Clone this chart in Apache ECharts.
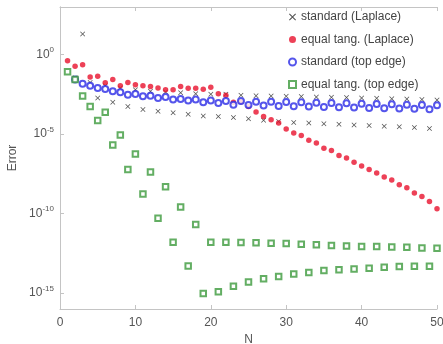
<!DOCTYPE html>
<html>
<head>
<meta charset="utf-8">
<script src="https://cdn.jsdelivr.net/npm/echarts@6/dist/echarts.min.js"></script>
<style>html,body{margin:0;padding:0;background:#fff}#c{width:443px;height:344px}</style>
</head>
<body>
<div id="c"></div>
<script>
// N values
const nBlack = [2,3,4,5,6,7,8,9,10,11,12,13,14,15,16,17,18,19,20,21,22,23,24,25,26,27,28,29,30,31,32,33,34,35,36,37,38,39,40,41,42,43,44,45,46,47,48,49,50];
const stdLaplace = [3.5e-2,2.0e1,1.8e-2,1.9e-3,1.1e-2,1.0e-3,7.9e-3,5.4e-4,6.3e-3,3.5e-4,5.0e-3,2.8e-4,4.5e-3,2.2e-4,4.0e-3,1.8e-4,3.5e-3,1.4e-4,3.2e-3,1.3e-4,3.2e-3,1.1e-4,2.8e-3,9.3e-5,2.6e-3,7.6e-5,2.5e-3,6.3e-5,2.4e-3,5.5e-5,2.3e-3,5.0e-5,2.2e-3,4.5e-5,2.1e-3,4.2e-5,2.0e-3,3.8e-5,1.9e-3,3.5e-5,1.8e-3,3.2e-5,1.7e-3,2.9e-5,1.6e-3,2.6e-5,1.5e-3,2.3e-5,1.4e-3];

const nRed = [1,2,3,4,5,6,7,8,9,10,11,12,13,14,15,16,17,18,19,20,21,22,23,24,25,26,27,28,29,30,31,32,33,34,35,36,37,38,39,40,41,42,43,44,45,46,47,48,49,50];
const eqLaplace = [4.2e-1,1.9e-1,2.3e-1,4.0e-2,4.4e-2,1.7e-2,2.7e-2,1.1e-2,1.8e-2,1.3e-2,1.1e-2,1.0e-2,7.9e-3,6.3e-3,6.3e-3,1.0e-2,7.6e-3,7.6e-3,6.6e-3,8.9e-3,3.5e-3,2.8e-3,1.0e-3,1.1e-3,5.4e-4,2.5e-4,1.3e-4,8.1e-5,5.0e-5,2.1e-5,1.2e-5,8.1e-6,4.1e-6,2.8e-6,1.3e-6,9.5e-7,4.5e-7,3.2e-7,1.7e-7,1.0e-7,5.9e-8,3.6e-8,2.0e-8,1.3e-8,6.6e-9,4.2e-9,2.0e-9,1.2e-9,5.9e-10,2.0e-10];

const nBlue = [2,3,4,5,6,7,8,9,10,11,12,13,14,15,16,17,18,19,20,21,22,23,24,25,26,27,28,29,30,31,32,33,34,35,36,37,38,39,40,41,42,43,44,45,46,47,48,49,50];
const stdTop = [2.7e-2,1.5e-2,1.1e-2,7.9e-3,6.9e-3,5.0e-3,4.3e-3,3.0e-3,3.4e-3,2.4e-3,2.6e-3,1.9e-3,2.2e-3,1.5e-3,1.6e-3,1.3e-3,1.5e-3,1.0e-3,1.3e-3,9.1e-4,1.2e-3,7.1e-4,1.2e-3,6.8e-4,1.1e-3,6.3e-4,1.1e-3,6.0e-4,1.05e-3,5.6e-4,1.0e-3,5.4e-4,9.5e-4,5.1e-4,9.1e-4,4.9e-4,8.7e-4,4.7e-4,8.3e-4,4.5e-4,7.9e-4,4.3e-4,7.6e-4,4.1e-4,7.2e-4,3.9e-4,6.9e-4,3.7e-4,6.6e-4];

const nGreen = [1,2,3,4,5,6,7,8,9,10,11,12,13,14,15,16,17,18,19,20,21,22,23,24,25,26,27,28,29,30,31,32,33,34,35,36,37,38,39,40,41,42,43,44,45,46,47,48,49,50];
const eqTop = [8.3e-2,2.7e-2,2.5e-3,5.4e-4,7.2e-5,2.4e-4,2.1e-6,8.7e-6,5.9e-8,5.6e-7,1.7e-9,4.2e-8,5.1e-11,5.0e-9,1.6e-12,2.6e-10,5.0e-14,2.1e-11,9.3e-16,1.6e-12,1.2e-15,1.6e-12,2.7e-15,1.55e-12,5.0e-15,1.45e-12,8.1e-15,1.35e-12,1.1e-14,1.3e-12,1.6e-14,1.2e-12,2.0e-14,1.1e-12,2.6e-14,1.0e-12,3.0e-14,9.3e-13,3.3e-14,8.7e-13,3.6e-14,8.7e-13,4.2e-14,8.1e-13,4.7e-14,7.6e-13,4.9e-14,6.9e-13,4.9e-14,6.6e-13];

const seriesNames = ['standard (Laplace)','equal tang. (Laplace)','standard (top edge)','equal tang. (top edge)'];
const xTicks = [0,10,20,30,40,50];
const yTicks = [1,1e-5,1e-10,1e-15];

const pairs = (xs, ys) => xs.map((x, i) => [x, ys[i]]);
const FONT = 'Liberation Sans, Arial, sans-serif';
const TXT = '#555';
const AX = '#c4c4c4';
const xMark = 'path://M0,1L1,0L5,4L9,0L10,1L6,5L10,9L9,10L5,6L1,10L0,9L4,5Z';

const chart = echarts.init(document.getElementById('c'), null, {renderer: 'canvas'});
chart.setOption({
  animation: false,
  backgroundColor: '#fff',
  textStyle: {fontFamily: FONT},
  grid: {left: 60, right: 6, top: 7, bottom: 35, containLabel: false, outerBoundsMode: 'none'},
  legend: {
    orient: 'vertical', left: 283, top: 6, itemGap: 10.5,
    itemWidth: 7, itemHeight: 7,
    textStyle: {fontSize: 12, color: '#444', fontFamily: FONT},
    data: seriesNames
  },
  xAxis: [{
    type: 'value', min: 0, max: 50, interval: 10,
    name: 'N', nameLocation: 'middle', nameGap: 22,
    nameTextStyle: {fontSize: 12, color: TXT},
    axisLine: {lineStyle: {color: AX}},
    axisTick: {inside: true, length: 4, lineStyle: {color: AX}},
    axisLabel: {fontSize: 12, color: TXT, margin: 8, customValues: xTicks},
    splitLine: {show: false}
  }, {
    type: 'value', min: 0, max: 50, interval: 10, position: 'top',
    axisLine: {show: true, lineStyle: {color: AX}},
    axisTick: {inside: true, length: 4, lineStyle: {color: AX}},
    axisLabel: {show: false}, splitLine: {show: false}
  }],
  yAxis: [{
    type: 'log', logBase: 10, min: 1e-16, max: 1e3,
    name: 'Error', nameLocation: 'middle', nameGap: 38, nameRotate: 90,
    nameTextStyle: {fontSize: 12, color: TXT},
    axisLine: {show: true, lineStyle: {color: AX}},
    axisTick: {show: true, inside: true, length: 4, lineStyle: {color: AX}, customValues: yTicks},
    axisLabel: {
      color: TXT, margin: 6, customValues: yTicks,
      formatter: v => '{b|10}{s|' + Math.round(Math.log10(v)) + '}',
      rich: {b: {fontSize: 12, color: TXT}, s: {fontSize: 8, color: TXT, padding: [0, 0, 9, 0]}}
    },
    splitLine: {show: false}
  }, {
    type: 'log', logBase: 10, min: 1e-16, max: 1e3, position: 'right',
    axisLine: {show: true, lineStyle: {color: AX}},
    axisTick: {show: false}, axisLabel: {show: false}, splitLine: {show: false}
  }],
  series: [
    {name: seriesNames[0], type: 'scatter', data: pairs(nBlack, stdLaplace), symbol: xMark, symbolSize: 5,
     itemStyle: {color: '#222'}},
    {name: seriesNames[1], type: 'scatter', data: pairs(nRed, eqLaplace), symbol: 'circle', symbolSize: 5.5,
     itemStyle: {color: '#e8112d'}},
    {name: seriesNames[2], type: 'scatter', data: pairs(nBlue, stdTop), symbol: 'emptyCircle', symbolSize: 6,
     itemStyle: {color: '#2a2ae6', borderWidth: 1.2}},
    {name: seriesNames[3], type: 'scatter', data: pairs(nGreen, eqTop), symbol: 'emptyRect', symbolSize: 5.5,
     itemStyle: {color: '#3c9a3c', borderWidth: 1.3}}
  ]
});
</script>
</body>
</html>
